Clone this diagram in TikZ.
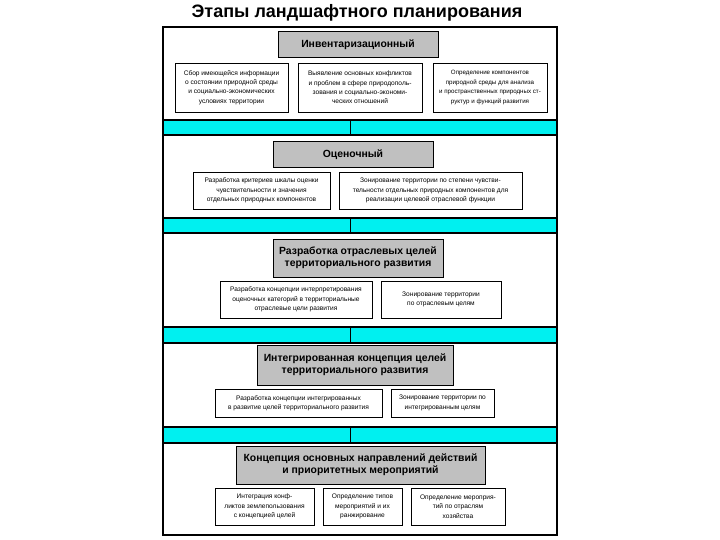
\documentclass[tikz,border=0pt]{standalone}
\usepackage{fontspec}
\setmainfont{Liberation Sans}
\usetikzlibrary{positioning}
\definecolor{bandcyan}{RGB}{0,240,240}
\definecolor{headgray}{RGB}{192,192,192}
\tikzset{
    panel/.style={draw=black, line width=1.4pt, fill=white, minimum width=394pt, inner sep=0},
    stagehead/.style={draw=black, line width=1pt, fill=headgray, inner sep=0, align=center,
        font=\fontsize{10.4}{12.2}\selectfont\bfseries},
    task/.style={draw=black, line width=0.7pt, fill=white, inner sep=0, align=center,
        font=\fontsize{6.6}{9.4}\selectfont},
    link/.style={draw=black, line width=1pt}
}

\begin{document}
\begin{tikzpicture}[x=1pt,y=-1pt]
\useasboundingbox (0,0) rectangle (720,540);
% Title
\node (title) at (357,13) {\fontsize{18}{20}\selectfont\bfseries Этапы ландшафтного планирования};
% Frame
\draw[fill=bandcyan, line width=1.4pt] (163,27) rectangle (557,535);
% Panels
\node[panel, minimum height=93pt] (p1) at (360,73.5) {};
\node[panel, minimum height=83pt] (p2) at (360,176.5) {};
\node[panel, minimum height=94pt] (p3) at (360,280) {};
\node[panel, minimum height=84pt] (p4) at (360,385) {};
\node[panel, minimum height=92pt] (p5) at (360,489) {};
% Links
\draw[link] ([xshift=-10pt]p1.south) -- ([xshift=-10pt]p2.north);
\draw[link] ([xshift=-10pt]p2.south) -- ([xshift=-10pt]p3.north);
\draw[link] ([xshift=-10pt]p3.south) -- ([xshift=-10pt]p4.north);
\draw[link] ([xshift=-10pt]p4.south) -- ([xshift=-10pt]p5.north);
% Stage 1
\node[stagehead, minimum width=160pt, minimum height=26pt] (h1) at (358,45) {Инвентаризационный};
\node[task, minimum width=113pt, minimum height=49pt] (t1a) at (231.5,87.5)
    {Сбор имеющейся информации\\о состоянии природной среды\\и социально-экономических\\условиях территории};
\node[task, minimum width=124pt, minimum height=49pt] (t1b) at (360,87.5)
    {Выявление основных конфликтов\\и проблем в сфере природополь-\\зования и социально-экономи-\\ческих отношений};
\node[task, minimum width=114pt, minimum height=49pt, font=\fontsize{6.2}{9.4}\selectfont] (t1c) at (490,87.5)
    {Определение компонентов\\природной среды для анализа\\и пространственных природных ст-\\руктур и функций развития};
% Stage 2
\node[stagehead, minimum width=160pt, minimum height=26pt] (h2) at (353,155) {Оценочный};
\node[task, minimum width=137pt, minimum height=37pt] (t2a) at (261.5,190.5)
    {Разработка критериев шкалы оценки\\чувствительности и значения\\отдельных природных компонентов};
\node[task, minimum width=183pt, minimum height=37pt] (t2b) at (430.5,190.5)
    {Зонирование территории по степени чувстви-\\тельности отдельных природных компонентов для\\реализации целевой отраслевой функции};
% Stage 3
\node[stagehead, minimum width=170pt, minimum height=38pt] (h3) at (358,258)
    {Разработка отраслевых целей\\территориального развития};
\node[task, minimum width=152pt, minimum height=37pt] (t3a) at (296,299.5)
    {Разработка концепции интерпретирования\\оценочных категорий в территориальные\\отраслевые цели развития};
\node[task, minimum width=120pt, minimum height=37pt] (t3b) at (441,299.5)
    {Зонирование территории\\по отраслевым целям};
% Stage 4
\node[stagehead, minimum width=196pt, minimum height=40pt] (h4) at (355,365)
    {Интегрированная концепция целей\\территориального развития};
\node[task, minimum width=167pt, minimum height=28pt] (t4a) at (298.5,403)
    {Разработка концепции интегрированных\\в развитие целей территориального развития};
\node[task, minimum width=103pt, minimum height=28pt] (t4b) at (442.5,403)
    {Зонирование территории по\\интегрированным целям};
% Stage 5
\node[stagehead, minimum width=249pt, minimum height=38pt] (h5) at (360.5,465)
    {Концепция основных направлений действий\\и приоритетных мероприятий};
\node[task, minimum width=99pt, minimum height=37pt] (t5a) at (264.5,506.5)
    {Интеграция конф-\\ликтов землепользования\\с концепцией целей};
\node[task, minimum width=79pt, minimum height=37pt] (t5b) at (362.5,506.5)
    {Определение типов\\мероприятий и их\\ранжирование};
\node[task, minimum width=94pt, minimum height=37pt] (t5c) at (458,506.5)
    {Определение мероприя-\\тий по отраслям\\хозяйства};
\end{tikzpicture}
\end{document}
